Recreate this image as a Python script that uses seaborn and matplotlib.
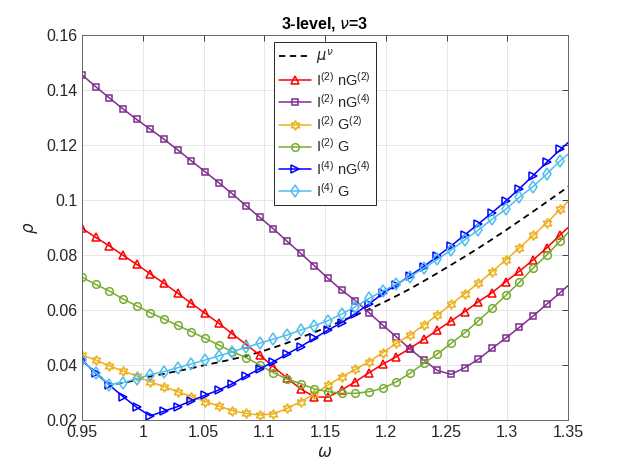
import numpy as np
import seaborn as sns
import matplotlib.pyplot as plt
from matplotlib.ticker import FuncFormatter

# omega grid (markers every 0.01125, last one falls just outside the axis)
omega = np.linspace(0.95, 1.355, 37)

mu_nu = [0.0418, 0.0371, 0.0330, 0.0334, 0.0346, 0.0358, 0.0368, 0.0378, 0.0388, 0.0400,
         0.0410, 0.0421, 0.0433, 0.0447, 0.0463, 0.0480, 0.0500, 0.0519, 0.0539, 0.0560,
         0.0581, 0.0603, 0.0626, 0.0651, 0.0677, 0.0705, 0.0734, 0.0764, 0.0794, 0.0825,
         0.0857, 0.0890, 0.0924, 0.0958, 0.0993, 0.1028, 0.1064]
i2_ng2 = [0.0897, 0.0864, 0.0833, 0.0799, 0.0766, 0.0731, 0.0697, 0.0661, 0.0624, 0.0588,
          0.0552, 0.0513, 0.0475, 0.0436, 0.0394, 0.0352, 0.0313, 0.0284, 0.0283, 0.0309,
          0.0339, 0.0372, 0.0403, 0.0430, 0.0461, 0.0493, 0.0527, 0.0560, 0.0594, 0.0630,
          0.0663, 0.0703, 0.0741, 0.0782, 0.0826, 0.0874, 0.0920]
i2_ng4 = [0.1455, 0.1412, 0.1371, 0.1331, 0.1293, 0.1257, 0.1221, 0.1182, 0.1142, 0.1103,
          0.1063, 0.1022, 0.0979, 0.0937, 0.0895, 0.0850, 0.0806, 0.0761, 0.0715, 0.0672,
          0.0634, 0.0590, 0.0545, 0.0502, 0.0458, 0.0418, 0.0380, 0.0366, 0.0390, 0.0421,
          0.0460, 0.0498, 0.0537, 0.0578, 0.0621, 0.0664, 0.0708]
i2_g2 = [0.0436, 0.0418, 0.0397, 0.0378, 0.0360, 0.0339, 0.0321, 0.0303, 0.0285, 0.0267,
         0.0251, 0.0234, 0.0224, 0.0218, 0.0222, 0.0242, 0.0267, 0.0295, 0.0327, 0.0357,
         0.0384, 0.0412, 0.0445, 0.0479, 0.0509, 0.0545, 0.0582, 0.0621, 0.0659, 0.0698,
         0.0739, 0.0782, 0.0826, 0.0871, 0.0917, 0.0966, 0.1018]
i2_g = [0.0719, 0.0693, 0.0669, 0.0640, 0.0615, 0.0590, 0.0567, 0.0544, 0.0521, 0.0497,
        0.0473, 0.0448, 0.0427, 0.0400, 0.0372, 0.0349, 0.0332, 0.0313, 0.0303, 0.0297,
        0.0297, 0.0303, 0.0315, 0.0339, 0.0370, 0.0406, 0.0440, 0.0479, 0.0517, 0.0561,
        0.0606, 0.0653, 0.0701, 0.0752, 0.0800, 0.0852, 0.0905]
i4_ng4 = [0.0418, 0.0370, 0.0327, 0.0285, 0.0246, 0.0215, 0.0232, 0.0249, 0.0270, 0.0290,
          0.0309, 0.0332, 0.0360, 0.0386, 0.0412, 0.0440, 0.0467, 0.0497, 0.0527, 0.0554,
          0.0587, 0.0622, 0.0660, 0.0692, 0.0725, 0.0758, 0.0795, 0.0833, 0.0873, 0.0913,
          0.0954, 0.0996, 0.1041, 0.1089, 0.1137, 0.1184, 0.1228]
i4_g = [0.0418, 0.0371, 0.0329, 0.0336, 0.0350, 0.0365, 0.0376, 0.0390, 0.0404, 0.0418,
        0.0433, 0.0448, 0.0464, 0.0479, 0.0494, 0.0509, 0.0527, 0.0543, 0.0561, 0.0585,
        0.0612, 0.0642, 0.0669, 0.0694, 0.0721, 0.0752, 0.0784, 0.0818, 0.0855, 0.0891,
        0.0930, 0.0966, 0.1010, 0.1049, 0.1095, 0.1143, 0.1185]

sns.set_style("white")
plt.rcParams['font.family'] = ['Liberation Sans', 'DejaVu Sans']
plt.rcParams['mathtext.default'] = 'regular'

fig = plt.figure(figsize=(6.28, 4.71), dpi=100)
ax = fig.add_axes([0.1306, 0.1083, 0.7739, 0.8174])

# dashed reference curve
sns.lineplot(x=omega, y=mu_nu, ax=ax, color='black', linestyle=(0, (3.5, 2.5)),
             linewidth=1.3, label=r'$\mathit{\mu}^{\mathit{\nu}}$')

series = [
    (i2_ng2, 'I$^{(2)}$ nG$^{(2)}$', '#ff0000', '^', 5.5),
    (i2_ng4, 'I$^{(2)}$ nG$^{(4)}$', '#7e2f8e', 's', 5.0),
    (i2_g2, 'I$^{(2)}$ G$^{(2)}$', '#edb120', (6, 1, 0), 7.0),
    (i2_g, 'I$^{(2)}$ G', '#77ac30', 'o', 5.5),
    (i4_ng4, 'I$^{(4)}$ nG$^{(4)}$', '#0000ff', '>', 5.5),
    (i4_g, 'I$^{(4)}$ G', '#4dbeee', 'd', 6.0),
]
for vals, lab, col, mk, ms in series:
    sns.lineplot(x=omega, y=vals, ax=ax, color=col, marker=mk, markersize=ms,
                 markerfacecolor='none', markeredgecolor=col, markeredgewidth=1.1,
                 linewidth=1.1, label=lab)

ax.set_xlim(0.95, 1.35)
ax.set_ylim(0.02, 0.16)
ax.set_xticks(np.arange(0.95, 1.3501, 0.05))
ax.set_yticks(np.arange(0.02, 0.1601, 0.02))
fmt = FuncFormatter(lambda v, _: f'{v:.10g}')
ax.xaxis.set_major_formatter(fmt)
ax.yaxis.set_major_formatter(fmt)
ax.tick_params(direction='in', length=4, width=0.6, colors='#262626', labelsize=11.5,
               top=True, right=True, labeltop=False, labelright=False)
ax.grid(True, color='#e6e6e6', linewidth=0.7)
for sp in ax.spines.values():
    sp.set_color('#666666')
    sp.set_linewidth(0.7)

ax.set_xlabel(r'$\mathit{\omega}$', fontsize=12, color='#262626')
ax.set_ylabel(r'$\mathit{\rho}$', fontsize=12, color='#262626')
ax.set_title(r'3-level, $\mathit{\nu}$=3', fontsize=11.5, fontweight='bold', color='black', pad=5)

leg = ax.legend(loc='upper center', bbox_to_anchor=(0.5, 0.982), fontsize=10.5,
                frameon=True, fancybox=False, framealpha=1, edgecolor='#262626',
                handlelength=2.2, handletextpad=0.3, borderpad=0.35, labelspacing=0.3,
                borderaxespad=0)
leg.get_frame().set_linewidth(0.7)

fig.savefig('out.png', dpi=100)
